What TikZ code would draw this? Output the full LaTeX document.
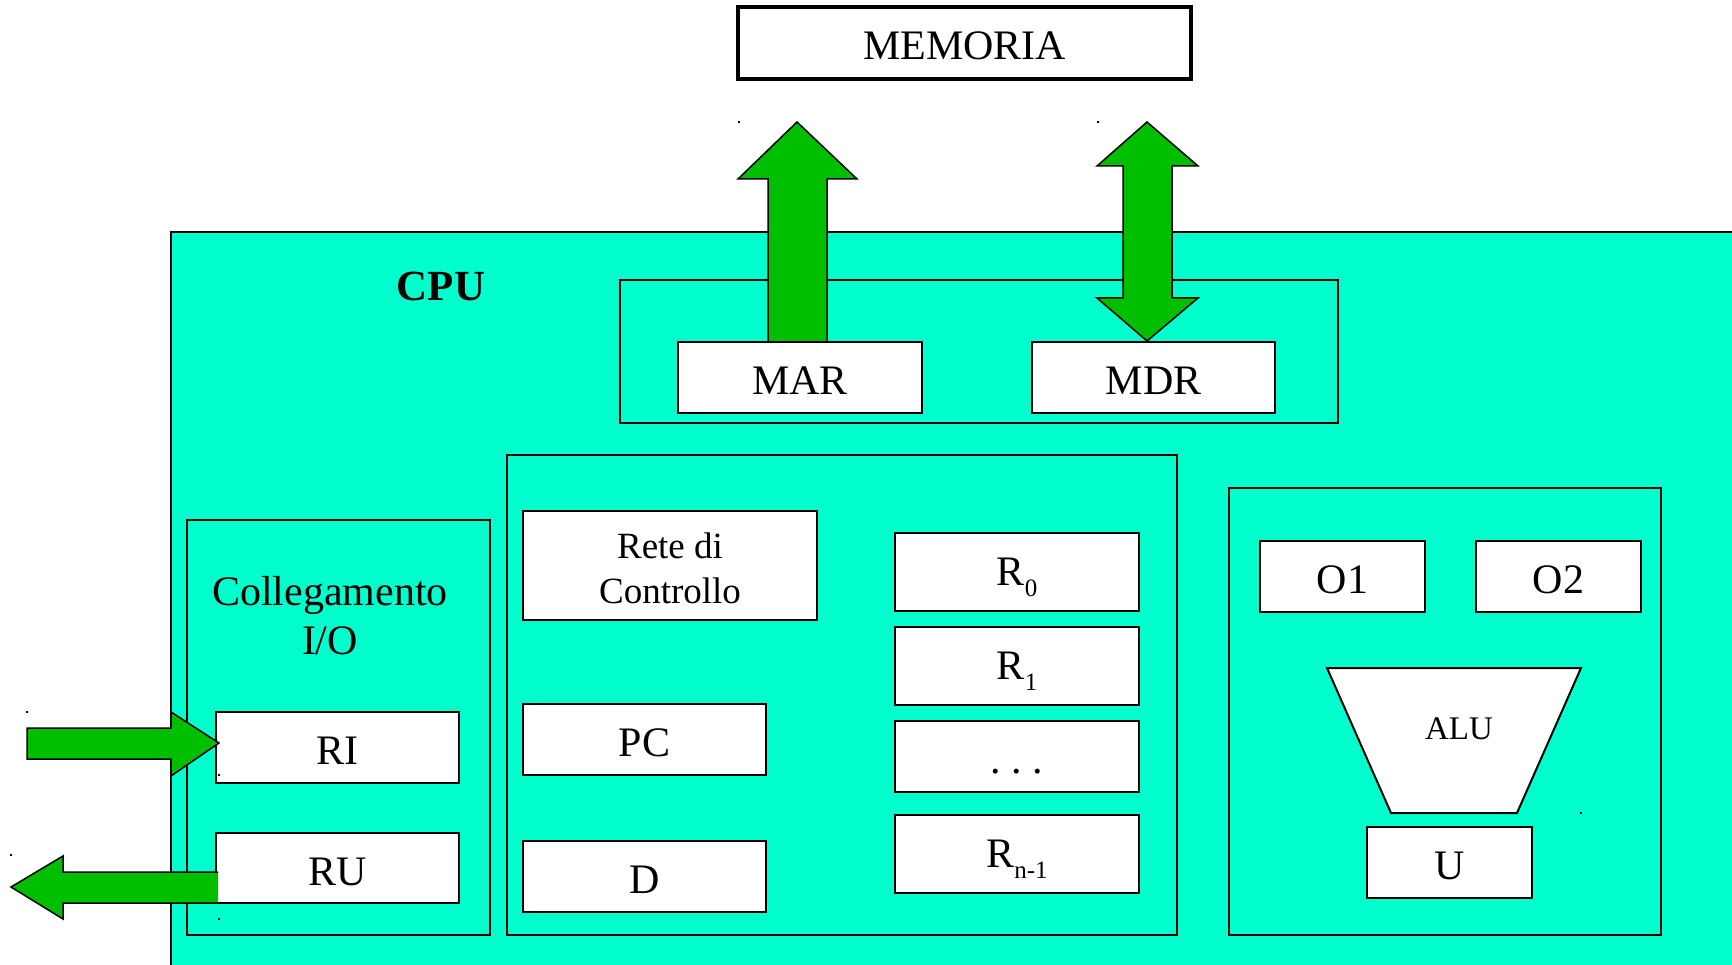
\documentclass[tikz,border=0pt]{standalone}
\usepackage{fontspec}
\setmainfont{Liberation Serif}
\definecolor{cpucyan}{RGB}{0,255,204}
\definecolor{busgreen}{RGB}{0,190,0}
\tikzset{
  frame/.style={draw, line width=2pt, inner sep=0pt},
  reg/.style={draw, fill=white, line width=2pt, inner sep=0pt,
    font=\fontsize{42}{48}\selectfont, text height=34pt, text depth=0pt},
  regsub/.style={reg, text height=27.7pt},
  blockarrow/.style={fill=busgreen, draw=black, line width=1.5pt, line join=miter},
  speck/.style={fill=black}
}
\newcommand{\sub}[1]{\raisebox{-10.5pt}{\fontsize{25}{25}\selectfont #1}}
\begin{document}
\begin{tikzpicture}[x=1pt, y=-1pt]
\useasboundingbox (0,0) rectangle (1732,965);

% main memory
\node[reg, line width=4pt, minimum width=453pt, minimum height=72pt] (memoria) at (964.5,43) {MEMORIA};

% CPU body
\fill[cpucyan] (171,232) rectangle (1732,965);
\draw[line width=2pt] (171,965) -- (171,232) -- (1732,232);
\node[font=\fontsize{43}{48}\selectfont\bfseries, text height=28.4pt, text depth=0pt, inner sep=0pt] (cpu) at (441,286) {CPU};

% memory interface registers
\node[frame, minimum width=718pt, minimum height=143pt] (membus) at (979,351.5) {};
\node[reg, minimum width=244pt, minimum height=71pt] (mar) at (800,377.5) {MAR};
\node[reg, minimum width=243pt, minimum height=71pt] (mdr) at (1153.5,377.5) {MDR};

% I/O interface
\node[frame, minimum width=303pt, minimum height=415pt] (iounit) at (338.5,727.5) {};
\node[align=center, inner sep=0pt, font=\fontsize{42}{49}\selectfont] (iolabel) at (330,616) {Collegamento\\I/O};
\node[reg, minimum width=243pt, minimum height=71pt] (ri) at (337.5,747.5) {RI};
\node[reg, minimum width=243pt, minimum height=70pt] (ru) at (337.5,868) {RU};

% control unit and register file
\node[frame, minimum width=670pt, minimum height=480pt] (ctrlunit) at (842,695) {};
\node[draw, fill=white, line width=2pt, inner sep=0pt, align=center,
  font=\fontsize{37}{45}\selectfont, minimum width=294pt, minimum height=109pt] (rete) at (670,565.5) {\rule{0pt}{32pt}Rete di\\Controllo};
\node[reg, minimum width=243pt, minimum height=71pt] (pc) at (644.5,739.5) {PC};
\node[reg, minimum width=243pt, minimum height=71pt] (dreg) at (644.5,876.5) {D};
\node[regsub, minimum width=244pt, minimum height=78pt] (r0) at (1017,572) {R\sub{0}};
\node[regsub, minimum width=244pt, minimum height=78pt] (r1) at (1017,666) {R\sub{1}};
\node[reg, minimum width=244pt, minimum height=71pt] (rdots) at (1017,756.5) {.\ .\ .};
\node[regsub, minimum width=244pt, minimum height=78pt] (rn) at (1017,854) {R\sub{n-1}};

% arithmetic logic unit
\node[frame, minimum width=432pt, minimum height=447pt] (aluunit) at (1445,711.5) {};
\node[reg, minimum width=165pt, minimum height=71pt] (o1) at (1342.5,576.5) {O1};
\node[reg, minimum width=165pt, minimum height=71pt] (o2) at (1558.5,576.5) {O2};
\draw[fill=white, line width=2pt, line join=miter] (1327,668) -- (1581,668) -- (1517,813) -- (1391,813) -- cycle;
\node[inner sep=0pt, font=\fontsize{33}{38}\selectfont, text height=21.8pt, text depth=0pt] (alu) at (1459,729) {ALU};
\node[reg, minimum width=165pt, minimum height=71pt] (u) at (1449.5,862.5) {U};

% address bus (MAR -> memory)
\draw[blockarrow] (768,342) -- (768,179) -- (738,179) -- (797,122) -- (857,179)
  -- (827,179) -- (827,342) -- cycle;
% data bus (MDR <-> memory)
\draw[blockarrow] (1147,122) -- (1198,166) -- (1172,166) -- (1172,298) -- (1198,298)
  -- (1147,341) -- (1097,298) -- (1123,298) -- (1123,166) -- (1097,166) -- cycle;
% input into RI
\draw[blockarrow] (27,728) -- (171,728) -- (171,712) -- (219,743) -- (171,776)
  -- (171,759) -- (27,759) -- cycle;
% output from RU
\fill[busgreen] (218,872) -- (63,872) -- (63,856) -- (11,887) -- (63,919)
  -- (63,903) -- (218,903) -- cycle;
\draw[line width=1.5pt, line join=miter] (218,872) -- (63,872) -- (63,856) -- (11,887)
  -- (63,919) -- (63,903) -- (218,903);

% anchor specks
\foreach \px/\py in {739/122, 1098/122, 27/712, 11/855, 219/775, 219/919, 1581/813}
  \fill[speck] (\px-1.2,\py-1.2) rectangle (\px+1.2,\py+1.2);
\end{tikzpicture}
\end{document}
